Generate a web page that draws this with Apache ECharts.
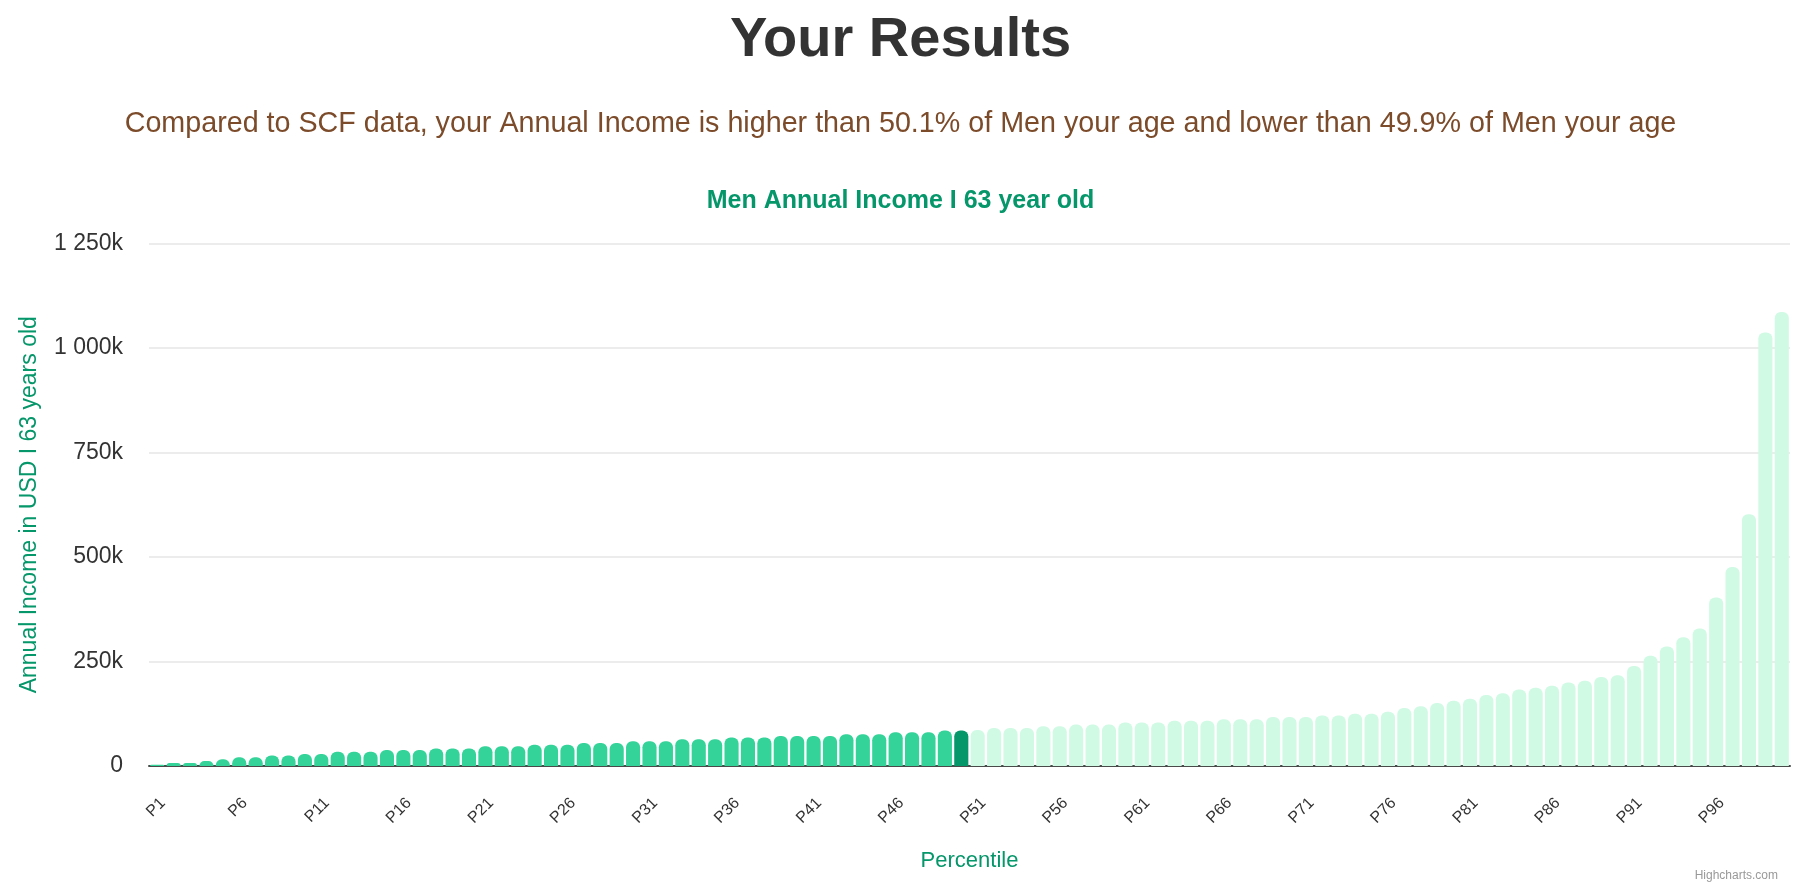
<!DOCTYPE html>
<html>
<head>
<meta charset="utf-8">
<script src="https://cdn.jsdelivr.net/npm/echarts@6/dist/echarts.min.js"></script>
<style>
html,body{margin:0;padding:0;background:#fff;}
#chart{width:1801px;height:890px;}
</style>
</head>
<body>
<div id="chart"></div>
<script>
// ---- data ----
const percentiles = Array.from({length: 100}, (_, i) => 'P' + (i + 1));
const incomeK = [
  3, 7, 7, 12, 16, 21, 21, 25, 25, 29,
  29, 34, 34, 34, 38, 38, 38, 42, 42, 42,
  47, 47, 47, 51, 51, 51, 55, 55, 55, 59,
  59, 59, 64, 64, 64, 68, 68, 68, 72, 72,
  72, 72, 76, 76, 76, 81, 81, 81, 85, 85,
  86, 91, 91, 91, 95, 95, 99, 99, 99, 104,
  104, 104, 108, 108, 108, 112, 112, 112, 117, 117,
  117, 121, 121, 125, 125, 130, 139, 143, 151, 156,
  161, 170, 174, 183, 187, 192, 200, 204, 213, 217,
  239, 264, 286, 308, 329, 403, 476, 602, 1037, 1086
];
const incomeValues = incomeK.map(v => v * 1000);
const userIndex = 49; // P50
const yTicks = [0, 250000, 500000, 750000, 1000000, 1250000];

const mainTitle = 'Your Results';
const subTitle = 'Compared to SCF data, your Annual Income is higher than 50.1% of Men your age and lower than 49.9% of Men your age';
const chartTitle = 'Men Annual Income I 63 year old';
const yAxisTitle = 'Annual Income in USD I 63 years old';
const xAxisTitle = 'Percentile';

const FONT = "'Liberation Sans', Helvetica, Arial, sans-serif";
const GREEN_TEXT = '#059669';

function fmtK(v) {
  if (v === 0) return '0';
  const k = Math.round(v / 1000);
  return String(k).replace(/\B(?=(\d{3})+(?!\d))/g, ' ') + 'k';
}

const barData = incomeValues.map((v, i) => ({
  value: v,
  itemStyle: {
    color: i < userIndex ? '#34d399' : (i === userIndex ? '#059669' : '#d1fae5')
  }
}));

const chart = echarts.init(document.getElementById('chart'), null, {renderer: 'canvas'});
chart.setOption({
  animation: false,
  backgroundColor: '#ffffff',
  textStyle: {fontFamily: FONT},
  title: [
    {text: mainTitle, left: 'center', top: 8,
     textStyle: {fontFamily: FONT, fontSize: 56, fontWeight: 'bold', color: '#333333'}},
    {text: subTitle, left: 'center', top: 105,
     textStyle: {fontFamily: FONT, fontSize: 28.7, fontWeight: 'normal', color: '#7b4b2a'}},
    {text: chartTitle, left: 'center', top: 184,
     textStyle: {fontFamily: FONT, fontSize: 25, fontWeight: 'bold', color: GREEN_TEXT}},
    {text: 'Highcharts.com', right: 18, bottom: 3,
     textStyle: {fontFamily: FONT, fontSize: 12, fontWeight: 'normal', color: '#999999'}}
  ],
  grid: {left: 149, right: 11, top: 243.5, bottom: 124, containLabel: false},
  xAxis: {
    type: 'category',
    data: percentiles,
    name: xAxisTitle,
    nameLocation: 'middle',
    nameGap: 84,
    nameTextStyle: {fontFamily: FONT, fontSize: 22, color: GREEN_TEXT},
    axisLine: {show: true, lineStyle: {color: '#4a4a4a', width: 2}},
    axisTick: {show: false},
    axisLabel: {
      interval: 4,
      rotate: 45,
      margin: 29,
      verticalAlign: 'top',
      fontFamily: FONT,
      fontSize: 16,
      color: '#333333'
    },
    splitLine: {show: false}
  },
  yAxis: {
    type: 'value',
    min: 0,
    max: 1250000,
    interval: 250000,
    name: yAxisTitle,
    nameLocation: 'middle',
    nameRotate: 90,
    nameGap: 108,
    nameTextStyle: {fontFamily: FONT, fontSize: 23, color: GREEN_TEXT},
    axisLine: {show: false},
    axisTick: {show: false},
    axisLabel: {
      margin: 26,
      padding: [8, 0, 0, 0],
      fontFamily: FONT,
      fontSize: 23,
      color: '#333333',
      formatter: fmtK
    },
    splitLine: {show: true, lineStyle: {color: '#e6e6e6', width: 1.5}}
  },
  series: [{
    type: 'bar',
    data: barData,
    barCategoryGap: '14%',
    itemStyle: {borderRadius: [6, 6, 0, 0]},
    emphasis: {disabled: true}
  }]
});
</script>
</body>
</html>
